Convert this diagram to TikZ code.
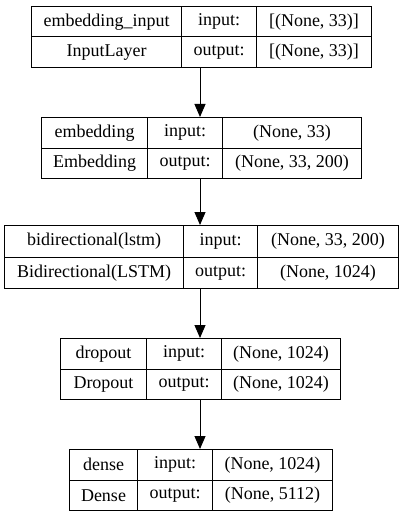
\documentclass[tikz,border=0pt]{standalone}
\usepackage{fontspec}
\setmainfont{Liberation Serif}
\usetikzlibrary{arrows.meta}

\begin{document}
\begin{tikzpicture}[x=1pt, y=-1pt, line width=1pt,
    cell/.style = {draw, anchor=north west, inner sep=0pt, minimum height=30.5pt, font=\fontsize{18}{20}\selectfont},
    flow/.style = {-{Triangle[length=13pt, width=11pt]}}]
    \useasboundingbox (0,0) rectangle (401,516);
    \coordinate (axis) at (200,0);

    % embedding_input
    \node[cell, minimum width=150pt] (inName) at (31,6) {embedding\_input};
    \node[cell, minimum width=75pt] (inInLbl) at (181,6) {input:};
    \node[cell, minimum width=115pt] (inInVal) at (256,6) {[(None, 33)]};
    \node[cell, minimum width=150pt] (inType) at (31,36.5) {InputLayer};
    \node[cell, minimum width=75pt] (inOutLbl) at (181,36.5) {output:};
    \node[cell, minimum width=115pt] (inOutVal) at (256,36.5) {[(None, 33)]};

    % embedding
    \node[cell, minimum width=106pt] (embName) at (41,117) {embedding};
    \node[cell, minimum width=75pt] (embInLbl) at (147,117) {input:};
    \node[cell, minimum width=139pt] (embInVal) at (222,117) {(None, 33)};
    \node[cell, minimum width=106pt] (embType) at (41,147.5) {Embedding};
    \node[cell, minimum width=75pt] (embOutLbl) at (147,147.5) {output:};
    \node[cell, minimum width=139pt] (embOutVal) at (222,147.5) {(None, 33, 200)};

    % bidirectional
    \node[cell, minimum width=179pt, minimum height=31.7pt] (biName) at (4,225) {bidirectional(lstm)};
    \node[cell, minimum width=74pt, minimum height=31.7pt] (biInLbl) at (183,225) {input:};
    \node[cell, minimum width=141pt, minimum height=31.7pt] (biInVal) at (257,225) {(None, 33, 200)};
    \node[cell, minimum width=179pt, minimum height=31.7pt] (biType) at (4,256.7) {Bidirectional(LSTM)};
    \node[cell, minimum width=74pt, minimum height=31.7pt] (biOutLbl) at (183,256.7) {output:};
    \node[cell, minimum width=141pt, minimum height=31.7pt] (biOutVal) at (257,256.7) {(None, 1024)};

    % dropout
    \node[cell, minimum width=86pt] (dropName) at (60,338) {dropout};
    \node[cell, minimum width=75pt] (dropInLbl) at (146,338) {input:};
    \node[cell, minimum width=119pt] (dropInVal) at (221,338) {(None, 1024)};
    \node[cell, minimum width=86pt] (dropType) at (60,368.5) {Dropout};
    \node[cell, minimum width=75pt] (dropOutLbl) at (146,368.5) {output:};
    \node[cell, minimum width=119pt] (dropOutVal) at (221,368.5) {(None, 1024)};

    % dense
    \node[cell, minimum width=68pt] (denseName) at (69,449) {dense};
    \node[cell, minimum width=75pt] (denseInLbl) at (137,449) {input:};
    \node[cell, minimum width=120pt] (denseInVal) at (212,449) {(None, 1024)};
    \node[cell, minimum width=68pt] (denseType) at (69,479.5) {Dense};
    \node[cell, minimum width=75pt] (denseOutLbl) at (137,479.5) {output:};
    \node[cell, minimum width=120pt] (denseOutVal) at (212,479.5) {(None, 5112)};

    \draw[flow] (axis |- inOutLbl.south) -- (axis |- embName.north);
    \draw[flow] (axis |- embOutLbl.south) -- (axis |- biName.north);
    \draw[flow] (axis |- biOutLbl.south) -- (axis |- dropName.north);
    \draw[flow] (axis |- dropOutLbl.south) -- (axis |- denseName.north);
\end{tikzpicture}
\end{document}
